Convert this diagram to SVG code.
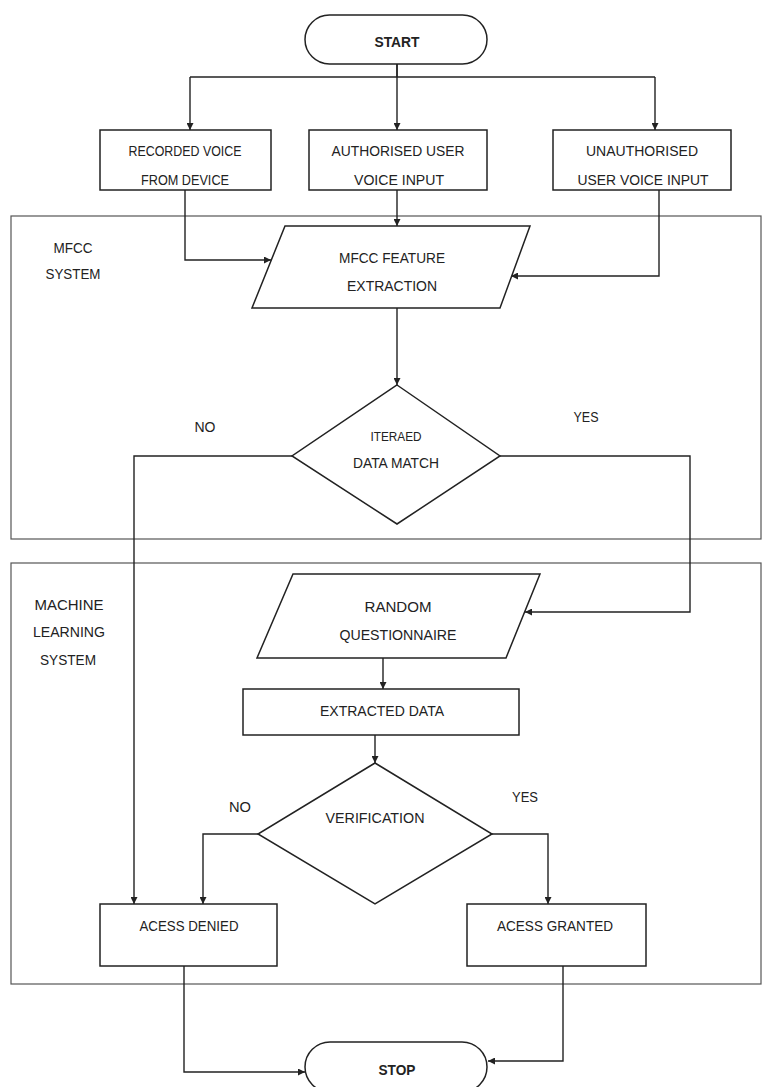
<svg xmlns="http://www.w3.org/2000/svg" width="763" height="1087" viewBox="0 0 763 1087">
<style>
.n{fill:#fff;stroke:#222;stroke-width:1.5}
.c{fill:none;stroke:#222;stroke-width:1.4}
.box{fill:none;stroke:#555;stroke-width:1.2}
text{font-family:"Liberation Sans",Arial,sans-serif;font-size:14px;fill:#222;text-anchor:middle}
.b{font-weight:bold}
</style>
<defs>
<marker id="a" viewBox="0 0 10 10" refX="10" refY="5" markerWidth="7" markerHeight="7" markerUnits="userSpaceOnUse" orient="auto"><path d="M0,0L10,5L0,10z" fill="#222"/></marker>
</defs>
<rect width="763" height="1087" fill="#fff"/>
<g id="mfcc-system">
<rect class="box" x="11" y="216" width="750" height="323"/>
<text x="73" y="253" textLength="39" lengthAdjust="spacingAndGlyphs">MFCC</text>
<text x="73" y="279" textLength="55" lengthAdjust="spacingAndGlyphs">SYSTEM</text>
</g>
<g id="ml-system">
<rect class="box" x="11" y="563" width="750" height="421"/>
<text x="69" y="610" textLength="69" lengthAdjust="spacingAndGlyphs">MACHINE</text>
<text x="69" y="637" textLength="72" lengthAdjust="spacingAndGlyphs">LEARNING</text>
<text x="68" y="665" textLength="56" lengthAdjust="spacingAndGlyphs">SYSTEM</text>
</g>
<g id="connectors">
<path class="c" d="M397,64V77"/>
<path class="c" d="M190,77H655"/>
<path class="c" d="M190,77V130" marker-end="url(#a)"/>
<path class="c" d="M397,64V130" marker-end="url(#a)"/>
<path class="c" d="M655,77V130" marker-end="url(#a)"/>
<path class="c" d="M185,190V260H271" marker-end="url(#a)"/>
<path class="c" d="M397,190V226" marker-end="url(#a)"/>
<path class="c" d="M659,190V276H511" marker-end="url(#a)"/>
<path class="c" d="M397,308V385" marker-end="url(#a)"/>
<path class="c" d="M292,456H134V904" marker-end="url(#a)"/>
<path class="c" d="M500,456H690V612H525" marker-end="url(#a)"/>
<path class="c" d="M383,658V689" marker-end="url(#a)"/>
<path class="c" d="M375,735V763" marker-end="url(#a)"/>
<path class="c" d="M258,834H203V904" marker-end="url(#a)"/>
<path class="c" d="M492,834H548V904" marker-end="url(#a)"/>
<path class="c" d="M184,966V1072H305" marker-end="url(#a)"/>
<path class="c" d="M563,966V1061H488" marker-end="url(#a)"/>
</g>
<g id="start">
<rect class="n" x="305" y="15" width="182" height="49" rx="24.5"/>
<text class="b" x="397" y="47" textLength="45" lengthAdjust="spacingAndGlyphs">START</text>
</g>
<g id="recorded-voice">
<rect class="n" x="100" y="130" width="171" height="60"/>
<text x="185" y="156" textLength="113" lengthAdjust="spacingAndGlyphs">RECORDED VOICE</text>
<text x="185" y="185" textLength="88" lengthAdjust="spacingAndGlyphs">FROM DEVICE</text>
</g>
<g id="authorised">
<rect class="n" x="309" y="130" width="178" height="60"/>
<text x="398" y="156" textLength="133" lengthAdjust="spacingAndGlyphs">AUTHORISED USER</text>
<text x="399" y="185" textLength="90" lengthAdjust="spacingAndGlyphs">VOICE INPUT</text>
</g>
<g id="unauthorised">
<rect class="n" x="553" y="130" width="178" height="60"/>
<text x="642" y="156" textLength="112" lengthAdjust="spacingAndGlyphs">UNAUTHORISED</text>
<text x="643" y="185" textLength="131" lengthAdjust="spacingAndGlyphs">USER VOICE INPUT</text>
</g>
<g id="mfcc-extraction">
<polygon class="n" points="285,226 530,226 500,308 252,308"/>
<text x="392" y="263" textLength="106" lengthAdjust="spacingAndGlyphs">MFCC FEATURE</text>
<text x="392" y="291" textLength="90" lengthAdjust="spacingAndGlyphs">EXTRACTION</text>
</g>
<g id="iteraed-match">
<polygon class="n" points="397,385 500,456 397,524 292,456"/>
<text x="396" y="441" textLength="51" lengthAdjust="spacingAndGlyphs" style="font-size:12px">ITERAED</text>
<text x="396" y="468" textLength="86" lengthAdjust="spacingAndGlyphs">DATA MATCH</text>
</g>
<g id="labels-1">
<text x="205" y="432" textLength="21" lengthAdjust="spacingAndGlyphs">NO</text>
<text x="586" y="422" textLength="25" lengthAdjust="spacingAndGlyphs">YES</text>
</g>
<g id="random-questionnaire">
<polygon class="n" points="293,574 540,574 506,658 257,658"/>
<text x="398" y="612" textLength="67" lengthAdjust="spacingAndGlyphs">RANDOM</text>
<text x="398" y="640" textLength="117" lengthAdjust="spacingAndGlyphs">QUESTIONNAIRE</text>
</g>
<g id="extracted-data">
<rect class="n" x="243" y="689" width="276" height="46"/>
<text x="382" y="716" textLength="124" lengthAdjust="spacingAndGlyphs">EXTRACTED DATA</text>
</g>
<g id="verification">
<polygon class="n" points="375,763 492,834 375,904 258,834"/>
<text x="375" y="823" textLength="99" lengthAdjust="spacingAndGlyphs">VERIFICATION</text>
</g>
<g id="labels-2">
<text x="240" y="812" textLength="22" lengthAdjust="spacingAndGlyphs">NO</text>
<text x="525" y="802" textLength="26" lengthAdjust="spacingAndGlyphs">YES</text>
</g>
<g id="access-denied">
<rect class="n" x="100" y="904" width="177" height="62"/>
<text x="189" y="931" textLength="99" lengthAdjust="spacingAndGlyphs">ACESS DENIED</text>
</g>
<g id="access-granted">
<rect class="n" x="467" y="904" width="179" height="62"/>
<text x="555" y="931" textLength="116" lengthAdjust="spacingAndGlyphs">ACESS GRANTED</text>
</g>
<g id="stop">
<rect class="n" x="305" y="1042" width="182" height="50" rx="25"/>
<text class="b" x="397" y="1075" textLength="37" lengthAdjust="spacingAndGlyphs">STOP</text>
</g>
</svg>
